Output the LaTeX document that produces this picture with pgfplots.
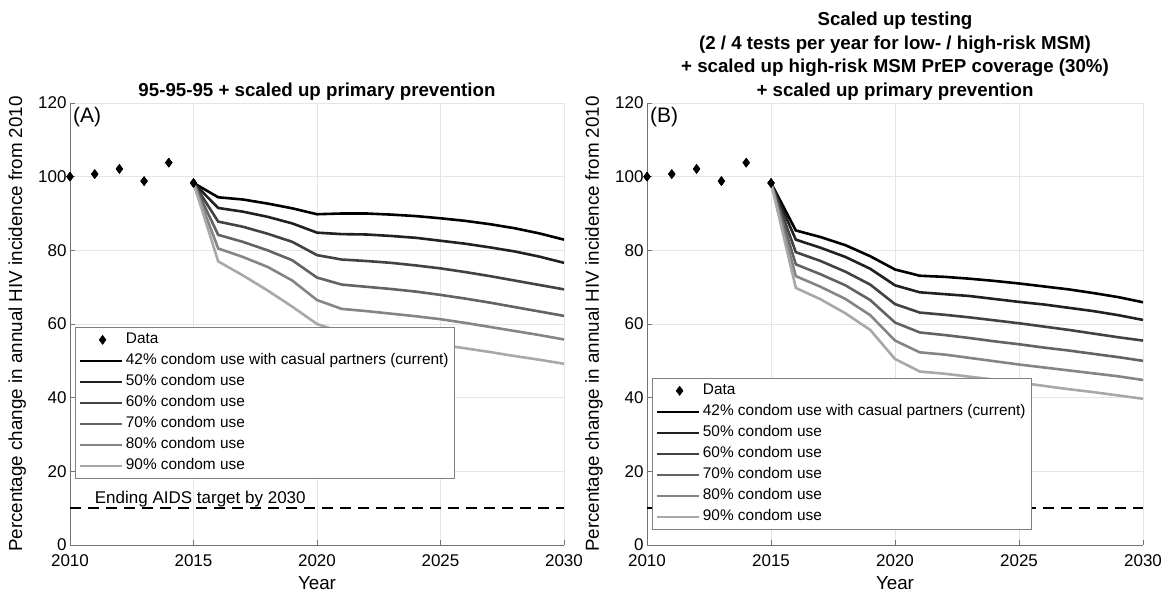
\documentclass[border=0pt]{standalone}
\usepackage{pgfplots}
\usepackage{pgfplotstable}
\pgfplotsset{compat=1.18}
\usepackage{fontspec}
\setmainfont{Liberation Sans}

\definecolor{c42}{gray}{0}
\definecolor{c50}{gray}{0.13}
\definecolor{c60}{gray}{0.26}
\definecolor{c70}{gray}{0.39}
\definecolor{c80}{gray}{0.52}
\definecolor{c90}{gray}{0.66}

% observed incidence, relative to 2010
\pgfplotstableread{
year val
2010 100.0
2011 100.7
2012 102.1
2013 98.8
2014 103.8
2015 98.3
}\obs

% (A) 95-95-95 + primary prevention
\pgfplotstableread{
year c42 c50 c60 c70 c80 c90
2015 98.3 98.3 98.3 98.3 98.3 98.3
2016 94.4 91.5 87.8 84.2 80.5 77.0
2017 93.8 90.5 86.4 82.3 78.2 73.2
2018 92.7 89.1 84.5 80.0 75.5 69.1
2019 91.4 87.3 82.3 77.3 71.8 64.7
2020 89.8 84.8 78.7 72.6 66.5 60.0
2021 90.0 84.4 77.5 70.7 64.1 57.8
2022 90.0 84.3 77.1 70.1 63.5 57.3
2023 89.7 83.9 76.6 69.5 62.8 56.5
2024 89.3 83.4 75.9 68.8 62.1 55.5
2025 88.7 82.6 75.1 67.9 61.3 54.4
2026 88.0 81.8 74.1 66.9 60.3 53.4
2027 87.1 80.8 73.0 65.8 59.2 52.4
2028 86.0 79.7 71.8 64.6 58.1 51.3
2029 84.6 78.3 70.6 63.4 57.0 50.3
2030 82.9 76.6 69.4 62.2 55.8 49.2
}\scenA

% (B) scaled up testing + PrEP + primary prevention
\pgfplotstableread{
year c42 c50 c60 c70 c80 c90
2015 98.3 98.3 98.3 98.3 98.3 98.3
2016 85.4 82.9 79.5 76.2 73.0 69.8
2017 83.6 80.7 77.1 73.5 70.1 66.7
2018 81.4 78.2 74.2 70.5 66.8 62.9
2019 78.4 75.0 70.7 66.5 62.4 58.4
2020 74.8 70.5 65.4 60.4 55.5 50.5
2021 73.1 68.6 63.1 57.7 52.3 47.1
2022 72.8 68.1 62.5 57.0 51.7 46.5
2023 72.3 67.6 61.8 56.2 50.8 45.7
2024 71.7 66.8 61.0 55.3 49.9 44.9
2025 71.0 66.0 60.2 54.5 49.0 44.1
2026 70.2 65.3 59.3 53.6 48.2 43.2
2027 69.4 64.4 58.4 52.8 47.4 42.3
2028 68.4 63.5 57.4 51.9 46.6 41.5
2029 67.3 62.4 56.4 51.0 45.8 40.6
2030 65.9 61.1 55.5 50.0 44.8 39.7
}\scenB

\pgfplotsset{
  panel/.style={
    scale only axis, height=442pt,
    xmin=2010, xmax=2030, ymin=0, ymax=120,
    xtick={2010,2015,...,2030}, ytick={0,20,...,120},
    grid=major, major grid style={draw=black!10, line width=0.6pt},
    axis x line*=bottom, axis y line*=left,
    axis line style={draw=black!55, line width=0.8pt},
    tick align=inside, major tick length=5pt,
    tick style={draw=black!55, line width=0.8pt},
    xticklabel style={/pgf/number format/1000 sep={}, yshift=-6.5pt},
    /pgf/number format/assume math mode=true,
    tick label style={font=\fontsize{17}{20}\selectfont},
    xlabel={Year},
    ylabel={Percentage change in annual HIV incidence from 2010},
    label style={font=\fontsize{18.8}{22}\selectfont},
    xlabel style={at={(axis description cs:0.5,-0.086)}, anchor=center},
    ylabel style={at={(axis description cs:-0.107,0.5)}, anchor=center},
    legend cell align=left,
    legend style={draw=black!50, fill=white, line width=0.6pt,
      font=\fontsize{15.4}{18}\selectfont, anchor=north west,
      inner xsep=3pt, inner ysep=2pt,
      nodes={inner sep=3pt, text height=11.5pt, text depth=3.5pt}},
    legend image code/.code={\draw[##1] (0pt,0pt) -- (42pt,0pt);},
  },
  scen/.style={line width=2.6pt},
  target/.style={black, line width=2.6pt, dash pattern=on 11pt off 7pt, forget plot},
  obsmark/.style={only marks, mark=diamond*, mark size=4.5pt, black,
    legend image code/.code={\draw[##1] plot coordinates {(23pt,0pt)};}},
}
\tikzset{ttl/.style={anchor=base, inner sep=0pt, font=\bfseries\fontsize{18.7}{23.5}\selectfont}}

\begin{document}
\begin{tikzpicture}
\useasboundingbox (0,0) rectangle (1168pt,594pt);

\begin{axis}[panel, name=pA, at={(70pt,49pt)}, anchor=south west, width=494pt,
  legend style={at={(axis description cs:0.0101,0.4932)}}]
\addplot[target] coordinates {(2010,10) (2030,10)};
\addplot[obsmark] table[x=year,y=val]{\obs};
\addlegendentry{Data}
\addplot[scen, c42] table[x=year,y=c42]{\scenA};
\addlegendentry{42\% condom use with casual partners (current)}
\addplot[scen, c50] table[x=year,y=c50]{\scenA};
\addlegendentry{50\% condom use}
\addplot[scen, c60] table[x=year,y=c60]{\scenA};
\addlegendentry{60\% condom use}
\addplot[scen, c70] table[x=year,y=c70]{\scenA};
\addlegendentry{70\% condom use}
\addplot[scen, c80] table[x=year,y=c80]{\scenA};
\addlegendentry{80\% condom use}
\addplot[scen, c90] table[x=year,y=c90]{\scenA};
\addlegendentry{90\% condom use}
\addplot[obsmark, forget plot] table[x=year,y=val]{\obs};
\node[anchor=west, inner sep=0pt, font=\fontsize{21}{24}\selectfont] at (axis description cs:0.006,0.968) {(A)};
\node[anchor=base west, inner sep=0pt, font=\fontsize{17}{20}\selectfont] at (axis cs:2011,11.3) {Ending AIDS target by 2030};
\end{axis}

\begin{axis}[panel, name=pB, at={(647pt,49pt)}, anchor=south west, width=496pt,
  legend style={at={(axis description cs:0.0101,0.3778)}}]
\addplot[target] coordinates {(2010,10) (2030,10)};
\addplot[obsmark] table[x=year,y=val]{\obs};
\addlegendentry{Data}
\addplot[scen, c42] table[x=year,y=c42]{\scenB};
\addlegendentry{42\% condom use with casual partners (current)}
\addplot[scen, c50] table[x=year,y=c50]{\scenB};
\addlegendentry{50\% condom use}
\addplot[scen, c60] table[x=year,y=c60]{\scenB};
\addlegendentry{60\% condom use}
\addplot[scen, c70] table[x=year,y=c70]{\scenB};
\addlegendentry{70\% condom use}
\addplot[scen, c80] table[x=year,y=c80]{\scenB};
\addlegendentry{80\% condom use}
\addplot[scen, c90] table[x=year,y=c90]{\scenB};
\addlegendentry{90\% condom use}
\addplot[obsmark, forget plot] table[x=year,y=val]{\obs};
\node[anchor=west, inner sep=0pt, font=\fontsize{21}{24}\selectfont] at (axis description cs:0.006,0.968) {(B)};
\end{axis}

% titles
\node[ttl, yshift=6.6pt] at (pA.north) {95-95-95 + scaled up primary prevention};
\node[ttl, yshift=77.1pt] at (pB.north) {Scaled up testing};
\node[ttl, yshift=53.6pt] at (pB.north) {(2 / 4 tests per year for low- / high-risk MSM)};
\node[ttl, yshift=30.1pt] at (pB.north) {+ scaled up high-risk MSM PrEP coverage (30\%)};
\node[ttl, yshift=6.6pt] at (pB.north) {+ scaled up primary prevention};
\end{tikzpicture}
\end{document}
